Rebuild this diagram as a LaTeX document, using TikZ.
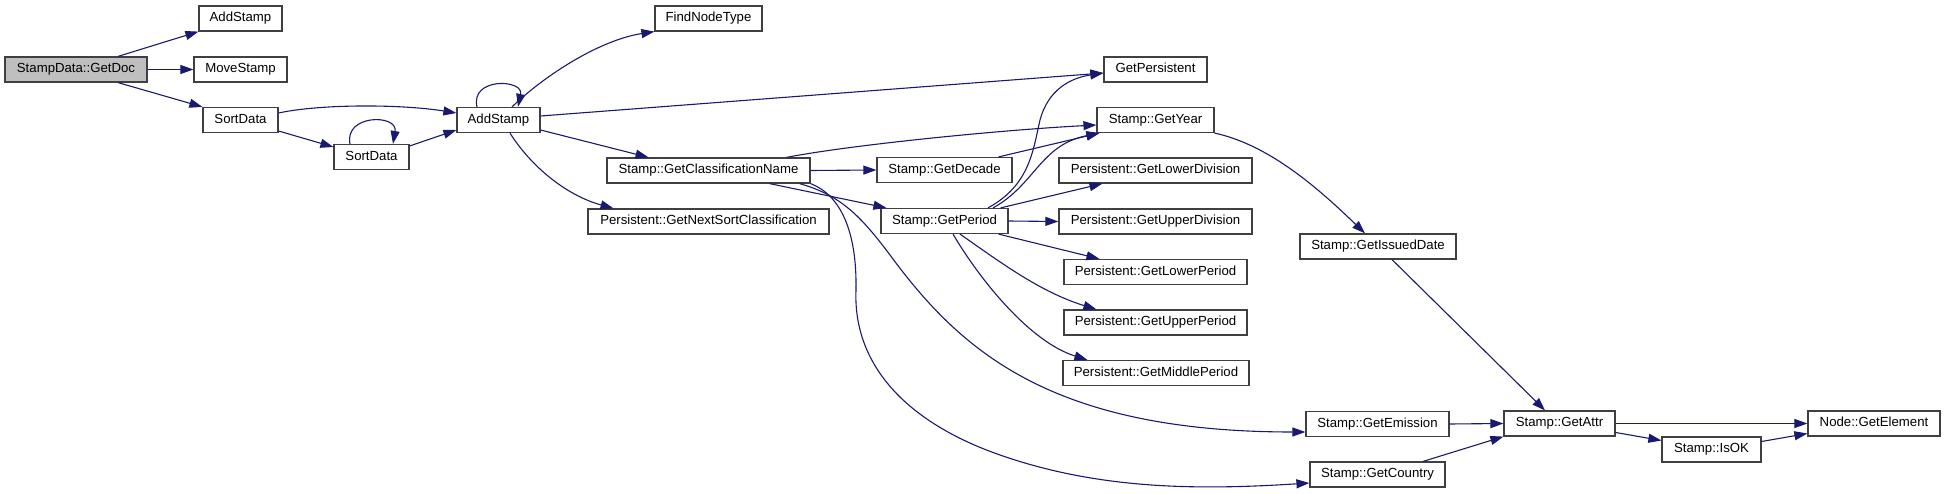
\documentclass[tikz,border=0pt]{standalone}
\usepackage{fontspec}
\setmainfont{Liberation Sans}
\usetikzlibrary{arrows.meta,calc}
\definecolor{edgeblue}{HTML}{191970}
\definecolor{boxline}{HTML}{404040}
\definecolor{rootfill}{HTML}{BFBFBF}
\begin{document}
\begin{tikzpicture}[x=1pt,y=-1pt,
  fn/.style={draw=boxline,line width=1.2pt,fill=white,rectangle,inner sep=0pt,minimum height=25pt,
    font=\fontsize{13.2}{15}\selectfont,text height=9.5pt,text depth=2.8pt},
  call/.style={draw=edgeblue,line width=1.1pt,-{Triangle[length=13pt,width=9pt]}}]
\useasboundingbox (0,0) rectangle (1945,494);
\node[fn,fill=rootfill,minimum width=142pt] (getdoc) at (76,69.5) {StampData::GetDoc};
\node[fn,minimum width=83pt] (addstampA) at (240.5,18.5) {AddStamp};
\node[fn,minimum width=93pt] (movestamp) at (240.5,69.5) {MoveStamp};
\node[fn,minimum width=75pt] (sortA) at (240.5,120) {SortData};
\node[fn,minimum width=75pt] (sortB) at (371.5,157) {SortData};
\node[fn,minimum width=83pt] (addstamp) at (498.5,120) {AddStamp};
\node[fn,minimum width=107pt] (findnode) at (708.5,18.5) {FindNodeType};
\node[fn,minimum width=203pt] (gcn) at (708.5,170.5) {Stamp::GetClassificationName};
\node[fn,minimum width=241pt] (gnsc) at (708.5,221.5) {Persistent::GetNextSortClassification};
\node[fn,minimum width=135pt] (decade) at (944.5,170) {Stamp::GetDecade};
\node[fn,minimum width=127pt] (period) at (944.5,221) {Stamp::GetPeriod};
\node[fn,minimum width=103pt] (getpers) at (1155.5,69.5) {GetPersistent};
\node[fn,minimum width=117pt] (year) at (1155.5,120) {Stamp::GetYear};
\node[fn,minimum width=193pt] (lowdiv) at (1155.5,170.5) {Persistent::GetLowerDivision};
\node[fn,minimum width=193pt] (updiv) at (1155.5,221.5) {Persistent::GetUpperDivision};
\node[fn,minimum width=183pt] (lowper) at (1155.5,272) {Persistent::GetLowerPeriod};
\node[fn,minimum width=183pt] (upper) at (1155.5,322.5) {Persistent::GetUpperPeriod};
\node[fn,minimum width=186pt] (midper) at (1156,373) {Persistent::GetMiddlePeriod};
\node[fn,minimum width=156pt] (issued) at (1378,246.5) {Stamp::GetIssuedDate};
\node[fn,minimum width=143pt] (emission) at (1377.5,424) {Stamp::GetEmission};
\node[fn,minimum width=135pt] (country) at (1377.5,474.5) {Stamp::GetCountry};
\node[fn,minimum width=111pt] (attr) at (1559.5,423.5) {Stamp::GetAttr};
\node[fn,minimum width=99pt] (isok) at (1711.5,449.5) {Stamp::IsOK};
\node[fn,minimum width=132pt] (element) at (1874,423.5) {Node::GetElement};

\draw[call] ($(getdoc.north)+(42,0)$) -- (addstampA.south west);
\draw[call] (getdoc.east) -- (movestamp.west);
\draw[call] ($(getdoc.south)+(42,0)$) -- (sortA.north west);
\draw[call] ($(sortA.east)+(0,-7)$) .. controls (320,104) and (400,104) .. ($(addstamp.west)+(0,-7)$);
\draw[call] ($(sortA.east)+(0,11)$) -- ($(sortB.west)+(0,-10)$);
\draw[call] ($(sortB.north)+(-21.5,0)$) .. controls (344,114) and (398,114) .. ($(sortB.north)+(21.5,0)$);
\draw[call] ($(sortB.east)+(0,-11)$) -- ($(addstamp.west)+(0,10)$);
\draw[call] ($(addstamp.north)+(-21.5,0)$) .. controls (470,77) and (524,79) .. ($(addstamp.north)+(19.5,0)$);
\draw[call] ($(addstamp.north)+(13.5,0)$) .. controls (545,75) and (600,40) .. (findnode.south west);
\draw[call] ($(addstamp.east)+(0,-4)$) -- ($(getpers.west)+(0,3.5)$);
\draw[call] ($(addstamp.east)+(0,10)$) -- ($(gcn.north)+(-60,0)$);
\draw[call] ($(addstamp.south)+(11.5,0)$) .. controls (530,165) and (565,195) .. ($(gnsc.north)+(-95,0)$);
\draw[call] ($(gcn.north)+(78,0)$) .. controls (850,145) and (1000,130) .. ($(year.west)+(0,5)$);
\draw[call] (gcn.east) -- (decade.west);
\draw[call] ($(gcn.south)+(61,0)$) -- ($(period.north west)+(6,0)$);
\draw[call] ($(gcn.south)+(91,0)$) .. controls (840,195) and (860,215) .. (890,255)
  .. controls (960,350) and (1050,432) .. ($(emission.west)+(0,8)$);
\draw[call] (gcn.south east) .. controls (840,195) and (857,230) .. (856,290)
  .. controls (853,360) and (900,420) .. (1000,455)
  .. controls (1100,490) and (1200,490) .. ($(country.west)+(0,8.5)$);
\draw[call] ($(decade.north east)+(-14,0)$) -- ($(year.south west)+(3,0)$);
\draw[call] ($(period.north)+(43.5,0)$) .. controls (1030,185) and (1033,150) .. (1040,120)
  .. controls (1048,90) and (1070,78) .. ($(getpers.west)+(0,3.5)$);
\draw[call] ($(period.north)+(48.5,0)$) .. controls (1035,185) and (1040,145) .. ($(year.south west)+(3,0)$);
\draw[call] ($(period.north east)+(-8,0)$) -- ($(lowdiv.south west)+(44,0)$);
\draw[call] (period.east) -- (updiv.west);
\draw[call] ($(period.south east)+(-10,0)$) -- ($(lowper.north west)+(36,0)$);
\draw[call] ($(period.south)+(15.5,0)$) .. controls (1000,262) and (1040,292) .. ($(upper.north west)+(33,0)$);
\draw[call] ($(period.south)+(8.5,0)$) .. controls (980,280) and (1030,342) .. ($(midper.north west)+(25,0)$);
\draw[call] (year.south east) .. controls (1270,145) and (1320,190) .. ($(issued.north)+(-13,0)$);
\draw[call] ($(issued.south)+(14,0)$) -- ($(attr.north)+(-14.5,0)$);
\draw[call] (emission.east) -- (attr.west);
\draw[call] ($(country.north)+(45.5,0)$) -- (attr.south west);
\draw[call] (attr.east) -- (element.west);
\draw[call] ($(attr.east)+(0,9)$) -- ($(isok.west)+(0,-9)$);
\draw[call] ($(isok.east)+(0,-8)$) -- ($(element.west)+(0,10)$);
\end{tikzpicture}
\end{document}
